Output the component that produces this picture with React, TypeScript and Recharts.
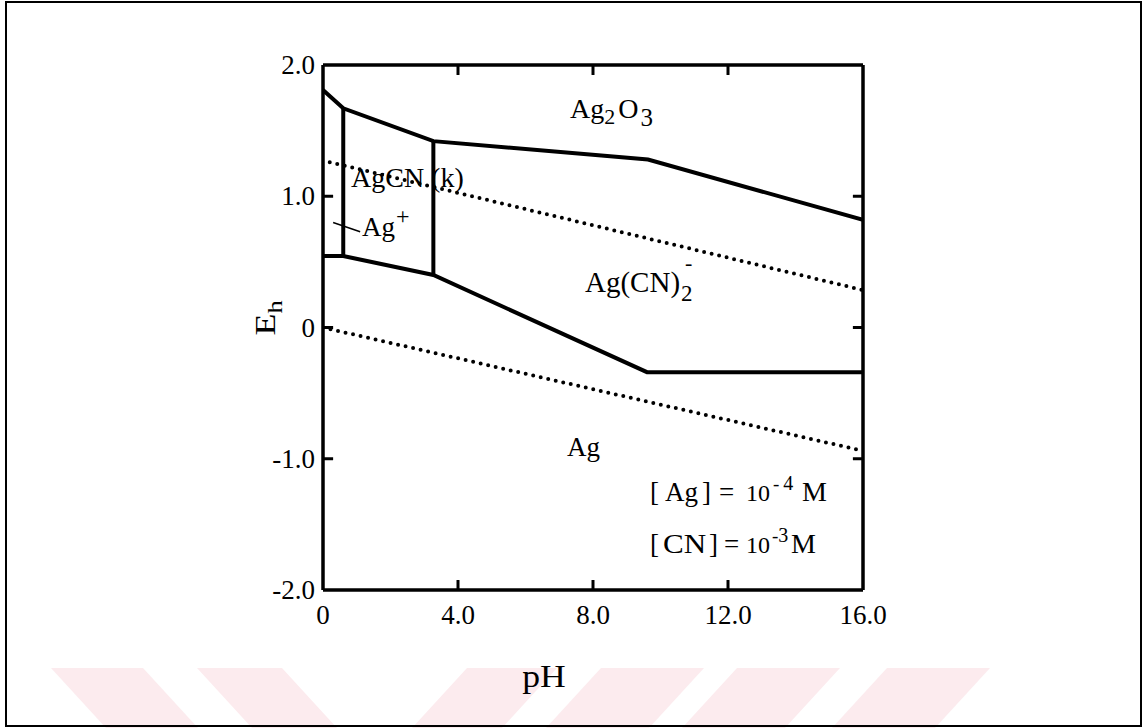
import React from "react";
import { LineChart, Line, XAxis, YAxis, ReferenceLine } from "recharts";

// pH / Eh values
const PH_TICKS = [0, 4, 8, 12, 16];
const EH_TICKS = [-2, -1, 0, 1, 2];

const upperBoundary = [
  { x: 0, y: 1.81 },
  { x: 0.6, y: 1.67 },
  { x: 3.27, y: 1.42 },
  { x: 9.63, y: 1.28 },
  { x: 16, y: 0.82 },
];
const lowerBoundary = [
  { x: 0, y: 0.545 },
  { x: 0.6, y: 0.545 },
  { x: 3.27, y: 0.4 },
  { x: 9.6, y: -0.34 },
  { x: 16, y: -0.34 },
];
const agPlusEdge = [
  { x: 0.6, y: 1.67 },
  { x: 0.6, y: 0.545 },
];
const agcnEdge = [
  { x: 3.27, y: 1.42 },
  { x: 3.27, y: 0.4 },
];
const oxygenLine = [
  { x: 0.2, y: 1.26 },
  { x: 16, y: 0.285 },
];
const hydrogenLine = [
  { x: 0, y: 0 },
  { x: 16, y: -0.94 },
];

const SERIF = "'Liberation Serif', 'Times New Roman', serif";
const fmt = (v: number) => (v === 0 ? "0" : v.toFixed(1));

// pink watermark stripes at the bottom of the scan
const WATERMARK = [
  [51, 143, 106, 198],
  [197, 282, 252, 337],
  [467, 557, 412, 502],
  [601, 704, 546, 649],
  [737, 840, 682, 785],
  [887, 990, 832, 935],
];

// inward tick marks, in data units (about 10px)
const X_TICK_LEN = 0.3;
const Y_TICK_LEN = 0.076;

function LeftLabel(props: any) {
  const { x, y, payload } = props;
  return (
    <text x={x - 8} y={y + 9} textAnchor="end" fontSize={27} fontFamily={SERIF} fill="#000">
      {fmt(payload.value)}
    </text>
  );
}

function BottomLabel(props: any) {
  const { x, y, payload } = props;
  return (
    <text x={x} y={y + 34} textAnchor="middle" fontSize={27} fontFamily={SERIF} fill="#000">
      {fmt(payload.value)}
    </text>
  );
}

export default function App() {
  const axisLine = { stroke: "#000", strokeWidth: 3.5 };

  const solid = { stroke: "#000", strokeWidth: 4, dot: false, isAnimationActive: false, type: "linear" as const };
  const dotted = {
    stroke: "#000",
    strokeWidth: 4,
    strokeDasharray: "0 7.7",
    strokeLinecap: "round" as const,
    dot: false,
    isAnimationActive: false,
    type: "linear" as const,
  };
  const innerX = PH_TICKS.slice(1, -1);
  const innerY = EH_TICKS.slice(1, -1);

  return (
    <div style={{ position: "absolute", left: 0, top: 0, width: 1147, height: 728, background: "#fff", overflow: "hidden" }}>
      <svg width={1147} height={728} style={{ position: "absolute", left: 0, top: 0 }}>
        {WATERMARK.map(([t0, t1, b0, b1], i) => (
          <polygon key={i} points={`${t0},668 ${t1},668 ${b1},728 ${b0},728`} fill="#fcebee" />
        ))}
      </svg>
      <div
        style={{
          position: "absolute",
          left: 5,
          top: 1,
          width: 1137,
          height: 726,
          border: "2px solid #000",
          boxSizing: "border-box",
        }}
      />
      <div style={{ position: "absolute", left: 0, top: 0 }}>
        <LineChart width={1147} height={728} margin={{ top: 64, right: 283, bottom: 78, left: 263 }}>
          <XAxis
            dataKey="x"
            type="number"
            domain={[0, 16]}
            ticks={PH_TICKS}
            allowDataOverflow
            tick={<BottomLabel />}
            axisLine={axisLine}
            tickLine={false}
            tickSize={0}
            tickMargin={0}
            height={60}
          />
          <XAxis
            xAxisId="top"
            orientation="top"
            type="number"
            domain={[0, 16]}
            ticks={PH_TICKS}
            tick={false}
            axisLine={axisLine}
            tickLine={false}
            height={1}
          />
          <YAxis
            type="number"
            domain={[-2, 2]}
            ticks={EH_TICKS}
            allowDataOverflow
            tick={<LeftLabel />}
            axisLine={axisLine}
            tickLine={false}
            tickSize={0}
            tickMargin={0}
            width={60}
          />
          <YAxis
            yAxisId="right"
            orientation="right"
            type="number"
            domain={[-2, 2]}
            ticks={EH_TICKS}
            tick={false}
            axisLine={axisLine}
            tickLine={false}
            width={1}
          />
          {innerY.map((v) => (
            <ReferenceLine key={`l${v}`} segment={[{ x: 0, y: v }, { x: X_TICK_LEN, y: v }]} stroke="#000" strokeWidth={3} />
          ))}
          {innerY.map((v) => (
            <ReferenceLine key={`r${v}`} segment={[{ x: 16 - X_TICK_LEN, y: v }, { x: 16, y: v }]} stroke="#000" strokeWidth={3} />
          ))}
          {innerX.map((v) => (
            <ReferenceLine key={`b${v}`} segment={[{ x: v, y: -2 }, { x: v, y: -2 + Y_TICK_LEN }]} stroke="#000" strokeWidth={3} />
          ))}
          {innerX.map((v) => (
            <ReferenceLine key={`t${v}`} segment={[{ x: v, y: 2 }, { x: v, y: 2 - Y_TICK_LEN }]} stroke="#000" strokeWidth={3} />
          ))}
          <Line data={oxygenLine} dataKey="y" {...dotted} />
          <Line data={hydrogenLine} dataKey="y" {...dotted} />
          <Line data={upperBoundary} dataKey="y" {...solid} />
          <Line data={lowerBoundary} dataKey="y" {...solid} />
          <Line data={agPlusEdge} dataKey="y" {...solid} />
          <Line data={agcnEdge} dataKey="y" {...solid} />
          <ReferenceLine
            segment={[
              { x: 0.3, y: 0.8 },
              { x: 1.1, y: 0.73 },
            ]}
            stroke="#000"
            strokeWidth={1.5}
          />
        </LineChart>
      </div>
      <svg
        width={1147}
        height={728}
        style={{ position: "absolute", left: 0, top: 0, pointerEvents: "none" }}
        fontFamily={SERIF}
        fill="#000"
      >
        <text x={570} y={118} fontSize={28}>
          Ag<tspan fontSize={22} dy={6}>2</tspan>
          <tspan dy={-6} dx={3}>O</tspan>
          <tspan fontSize={25} dy={8} dx={2}>3</tspan>
        </text>
        <text x={351} y={187} fontSize={28}>
          AgCN (k)
        </text>
        <text x={362} y={236} fontSize={27}>
          Ag<tspan dy={-12} dx={1} fontSize={24}>+</tspan>
        </text>
        <text x={585} y={292} fontSize={29}>
          Ag(CN)<tspan fontSize={23} dy={9} dx={1}>2</tspan>
        </text>
        <text x={685} y={270} fontSize={22}>
          -
        </text>
        <text x={567} y={456} fontSize={27}>
          Ag
        </text>
        <g fontSize={27}>
          <text x={650} y={501}>[</text>
          <text x={665} y={501}>Ag</text>
          <text x={702} y={501}>]</text>
          <text x={719} y={501}>=</text>
          <text x={746} y={501} fontSize={24}>10</text>
          <text x={773} y={490} fontSize={19}>
            -<tspan dx={4} fontSize={20}>4</tspan>
          </text>
          <text x={802} y={501} fontSize={28}>M</text>

          <text x={650} y={553}>[</text>
          <text x={663} y={553} transform="translate(663,0) scale(1.15,1) translate(-663,0)">CN</text>
          <text x={709} y={553}>]</text>
          <text x={724} y={553}>=</text>
          <text x={746} y={553} fontSize={24}>10</text>
          <text x={772} y={542} fontSize={19}>
            -<tspan fontSize={20}>3</tspan>
          </text>
          <text x={791} y={553} fontSize={28}>M</text>
        </g>
        <text x={544} y={687} fontSize={31} textAnchor="middle" transform="translate(544,0) scale(1.15,1) translate(-544,0)">
          pH
        </text>
        <text transform="translate(275,318) rotate(-90) scale(1.2,1)" fontSize={30} textAnchor="middle">
          E<tspan fontSize={22} dy={7}>h</tspan>
        </text>
      </svg>
    </div>
  );
}
